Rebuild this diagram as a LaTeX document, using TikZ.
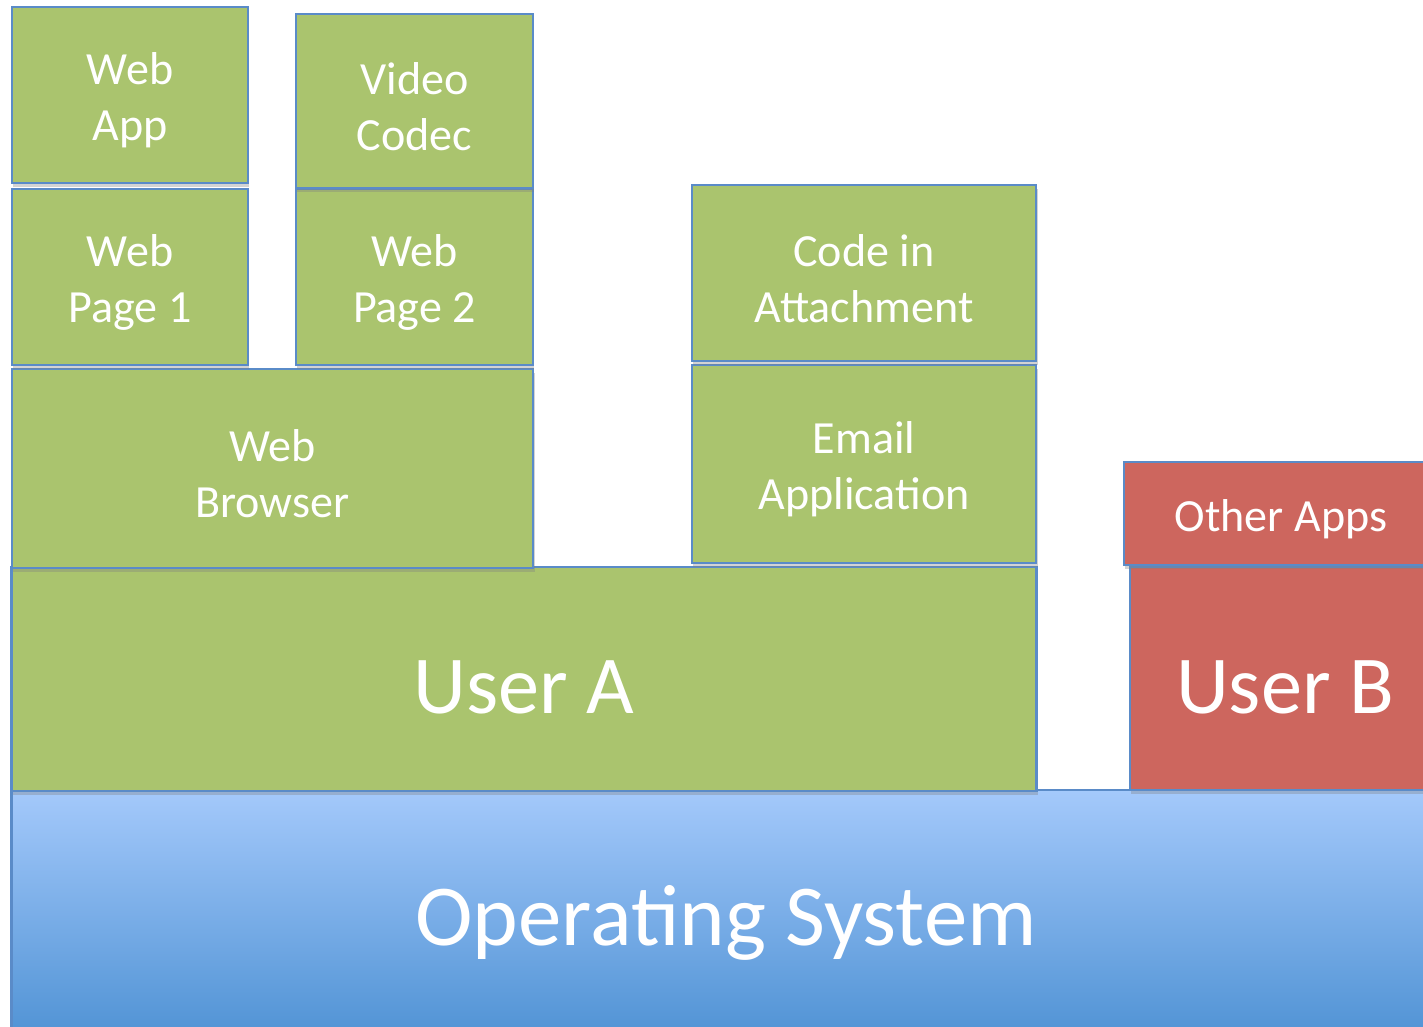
\documentclass[tikz,border=0pt]{standalone}
\usepackage{fontspec}
\setmainfont{Carlito}
\usetikzlibrary{shadows}
\definecolor{gfill}{HTML}{AAC46E}
\definecolor{rfill}{HTML}{CD665E}
\definecolor{bcol}{HTML}{5A8BC8}
\definecolor{ostop}{HTML}{A4C9FB}
\definecolor{osbot}{HTML}{4F92D4}
\tikzset{
  base/.style={draw=bcol, line width=0.7pt, inner sep=0pt,
    drop shadow={opacity=0.35, shadow xshift=0.4pt, shadow yshift=-1.2pt}},
  gbox/.style={base, fill=gfill},
  rbox/.style={base, fill=rfill},
  small/.style={text=white, align=center, inner sep=0pt, yshift=-1.5pt, font=\fontsize{13.1}{15.9}\selectfont},
  big/.style={text=white, align=center, inner sep=0pt, yshift=-2.4pt, font=\fontsize{23.4}{28}\selectfont},
  huge/.style={text=white, align=center, inner sep=0pt, yshift=-2.2pt, font=\fontsize{24.7}{30}\selectfont},
}
\begin{document}
\begin{tikzpicture}[x=0.01cm,y=-0.01cm]
\useasboundingbox (0,0) rectangle (1423,1026);
\clip (0,0) rectangle (1423,1026);
\node[base, top color=ostop, bottom color=osbot, minimum width=14.28cm, minimum height=2.5cm,
  label={[huge]center:Operating System}] (os) at (726,915) {};
\node[gbox, minimum width=10.24cm, minimum height=2.24cm, label={[big]center:User A}] (usera) at (524,679) {};
\node[rbox, minimum width=3.10cm, minimum height=2.23cm, label={[big]center:User B}] (userb) at (1285,678.5) {};
\node[gbox, minimum width=5.21cm, minimum height=1.99cm, label={[small]center:{Web\\Browser}}] (browser) at (272.5,468.5) {};
\node[gbox, minimum width=3.44cm, minimum height=1.98cm, label={[small]center:{Email\\Application}}] (email) at (864,464) {};
\node[rbox, minimum width=3.14cm, minimum height=1.03cm, label={[small]center:Other Apps}] (other) at (1281,513.5) {};
\node[gbox, minimum width=2.36cm, minimum height=1.76cm, label={[small]center:{Web\\Page 1}}] (page1) at (130,277) {};
\node[gbox, minimum width=2.37cm, minimum height=1.76cm, label={[small]center:{Web\\Page 2}}] (page2) at (414.5,277) {};
\node[gbox, minimum width=3.44cm, minimum height=1.76cm, label={[small]center:{Code in\\Attachment}}] (code) at (864,273) {};
\node[gbox, minimum width=2.36cm, minimum height=1.76cm, label={[small]center:{Web\\App}}] (webapp) at (130,95) {};
\node[gbox, minimum width=2.37cm, minimum height=1.74cm, label={[small]center:{Video\\Codec}}] (codec) at (414.5,101) {};
\end{tikzpicture}
\end{document}
